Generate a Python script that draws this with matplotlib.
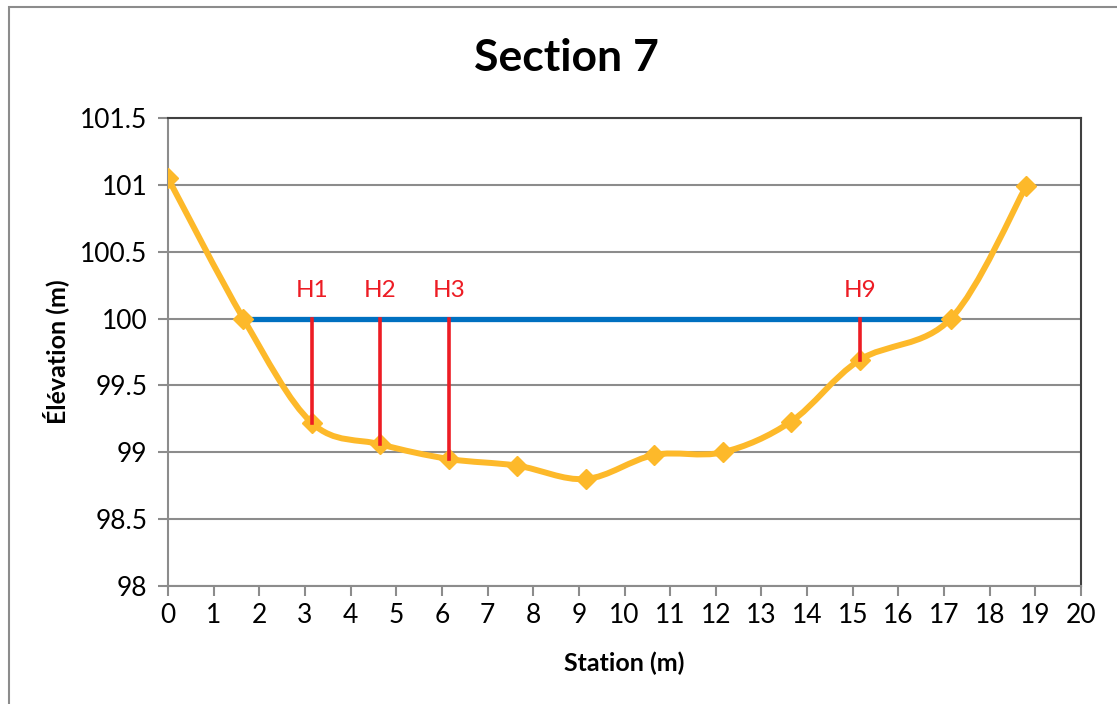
import matplotlib
matplotlib.use('Agg')
import matplotlib.pyplot as plt
from matplotlib.path import Path
from matplotlib.patches import PathPatch, Rectangle
import numpy as np

plt.rcParams['font.family'] = ['Lato', 'DejaVu Sans']

# cross-section survey
station = [0, 1.65, 3.15, 4.65, 6.15, 7.65, 9.15, 10.65, 12.15, 13.65, 15.15, 17.15, 18.8]
elevation = [101.05, 100.0, 99.22, 99.06, 98.95, 98.9, 98.8, 98.98, 99.0, 99.23, 99.69, 100.0, 100.99]

# water surface
water_x = [1.65, 17.15]
water_level = 100.0

# depth markers
depth_names = ['H1', 'H2', 'H3', 'H9']
depth_x = [3.15, 4.65, 6.15, 15.15]
depth_bed = [99.22, 99.06, 98.95, 99.69]

orange = '#FDB92A'
blue = '#0070C0'
red = '#ED1C24'


def smooth_path(xs, ys):
    # Excel-like smoothed line: cubic bezier through the points
    p = np.column_stack([xs, ys])
    n = len(p)
    verts = [p[0]]
    codes = [Path.MOVETO]
    for i in range(n - 1):
        p0 = p[i - 1] if i > 0 else p[i]
        p3 = p[i + 2] if i + 2 < n else p[i + 1]
        c1 = p[i] + (p[i + 1] - p0) / 6
        c2 = p[i + 1] - (p3 - p[i]) / 6
        verts += [c1, c2, p[i + 1]]
        codes += [Path.CURVE4] * 3
    return Path(verts, codes)


fig = plt.figure(figsize=(11.17, 7.04), dpi=100)
ax = fig.add_axes([168 / 1117, 1 - 586 / 704, (1081 - 168) / 1117, (586 - 118) / 704])

# outer chart border
fig.patches.append(Rectangle((9 / 1117, -0.1), 1.2, 1 - 7 / 704 + 0.1, transform=fig.transFigure,
                             fill=False, edgecolor='#8c8c8c', linewidth=1.5))

ax.plot(water_x, [water_level, water_level], color=blue, linewidth=3.8, zorder=3)

ax.add_patch(PathPatch(smooth_path(station, elevation), facecolor='none', edgecolor=orange,
                       linewidth=4.3, capstyle='round', zorder=4))
ax.plot(station, elevation, linestyle='none', marker='D', markersize=10.5, color=orange, zorder=5)

for name, x, bed in zip(depth_names, depth_x, depth_bed):
    ax.plot([x, x], [water_level, bed], color=red, linewidth=2.6, zorder=6)
    ax.text(x, 100.21, name, color=red, fontsize=17.5, ha='center', va='center')

ax.set_xlim(0, 20)
ax.set_ylim(98, 101.5)
ax.set_xticks(range(0, 21))
ax.set_yticks(np.arange(98, 101.51, 0.5))
ax.set_yticklabels(['98', '98.5', '99', '99.5', '100', '100.5', '101', '101.5'])
ax.grid(axis='y', color='#8c8c8c', linewidth=1.5)
ax.set_axisbelow(True)

ax.tick_params(axis='both', labelsize=19, color='#8c8c8c', width=1.5, length=7, direction='out')
ax.tick_params(axis='x', pad=5)
ax.tick_params(axis='y', pad=8)
for side in ['left', 'bottom']:
    ax.spines[side].set_color('#8c8c8c')
    ax.spines[side].set_linewidth(1.5)
for side in ['top', 'right']:
    ax.spines[side].set_color('#404040')
    ax.spines[side].set_linewidth(1.5)

ax.set_xlabel('Station (m)', fontsize=18, fontweight='bold', labelpad=17)
ax.set_ylabel('Élévation (m)', fontsize=18, fontweight='bold', labelpad=8)
fig.text(566 / 1117, 1 - 58 / 704, 'Section 7', fontsize=32, fontweight='bold', ha='center', va='center')

fig.savefig('out.png', dpi=100)
